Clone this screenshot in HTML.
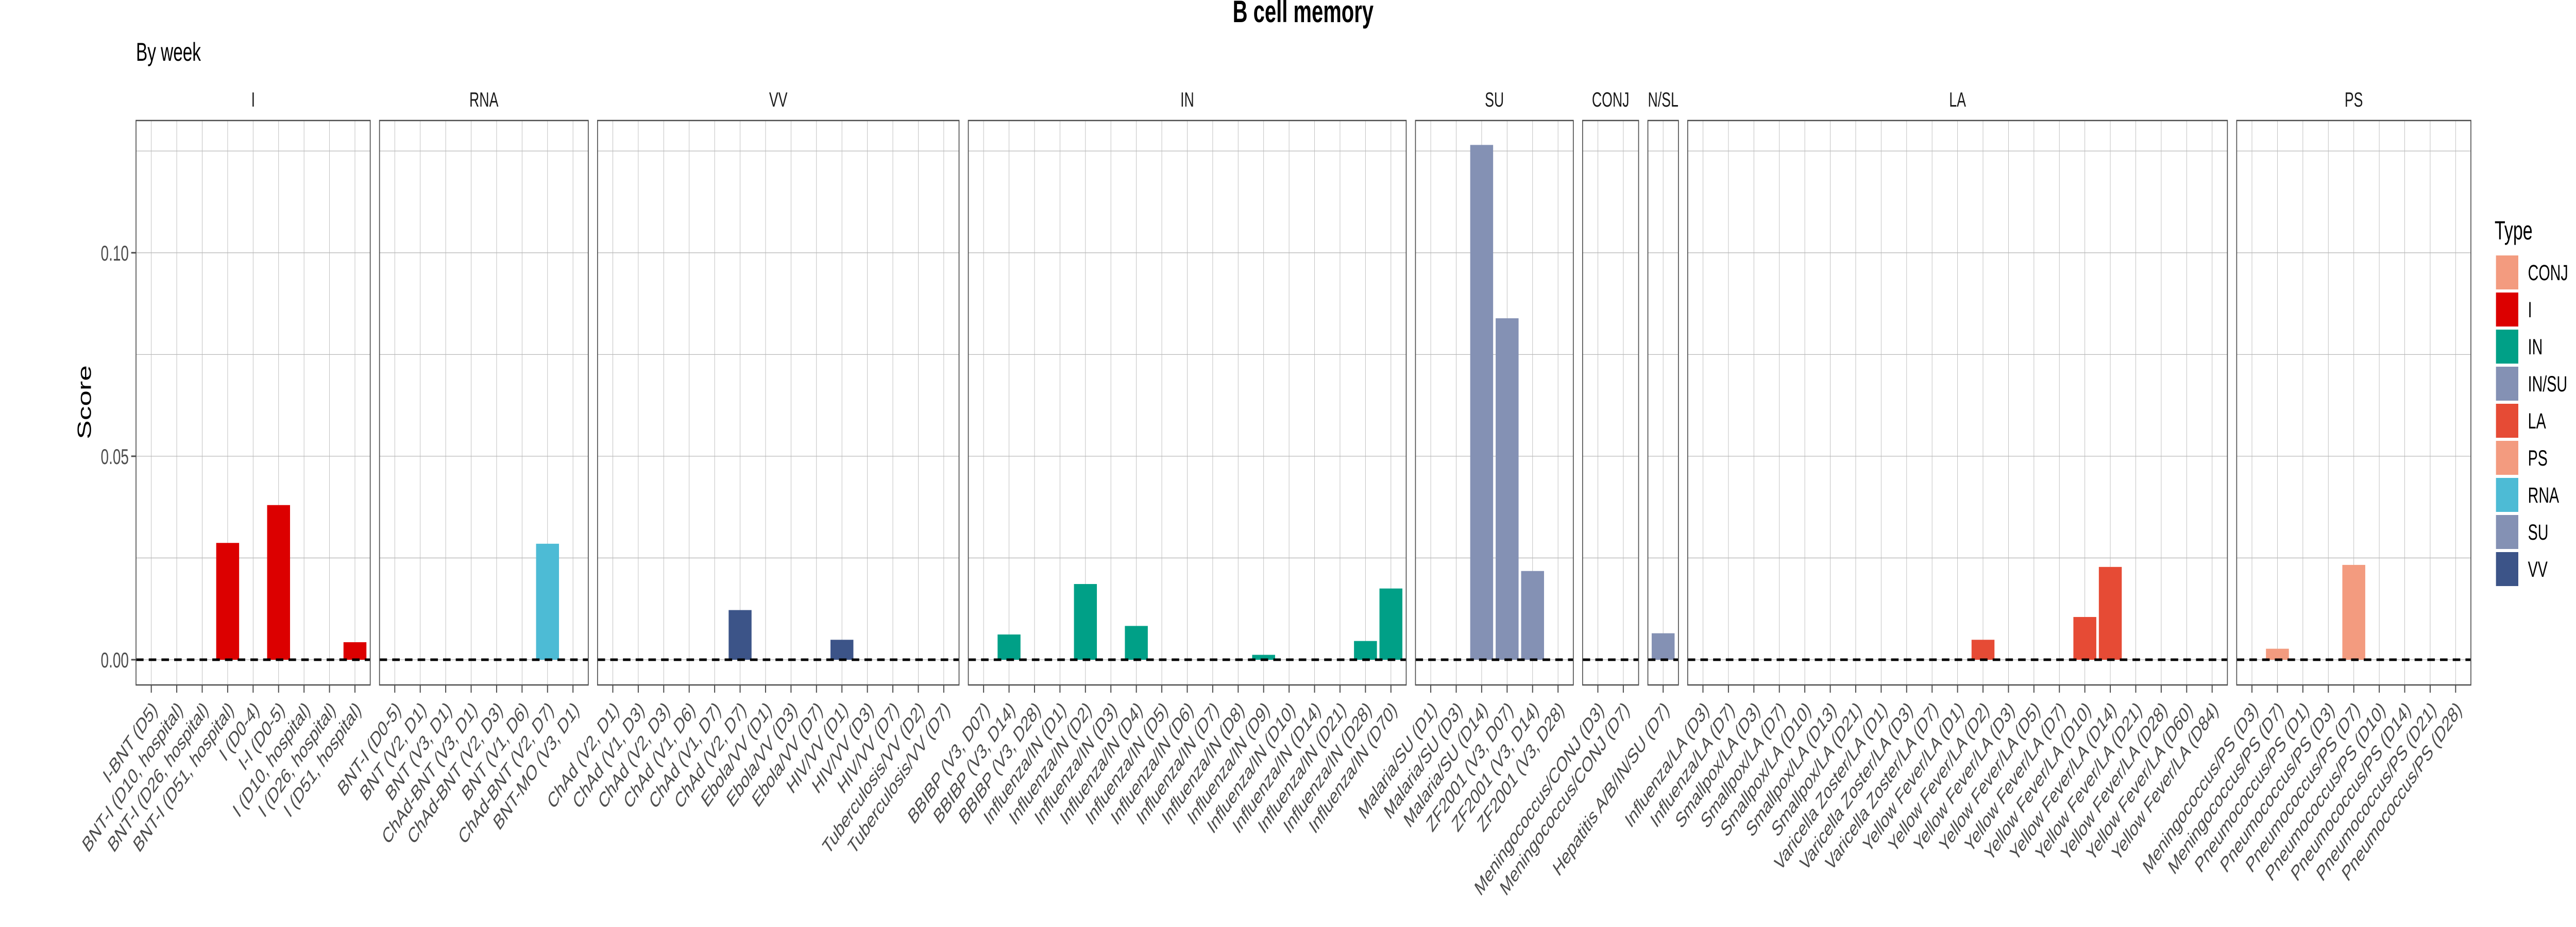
<!DOCTYPE html>
<html><head><meta charset="utf-8">
<style>
html,body{margin:0;padding:0;background:#fff;width:100%;height:100%;overflow:hidden;}
svg{display:block;font-family:"Liberation Sans",sans-serif;width:100vw;height:100vh;}
</style></head>
<body>
<svg id="chart" viewBox="0 0 7500 1800" preserveAspectRatio="none" xmlns="http://www.w3.org/2000/svg">
<text x="3794" y="43" font-size="60" font-weight="bold" text-anchor="middle" fill="#000">B cell memory</text>
<text x="396" y="118" font-size="50" fill="#000">By week</text>
<text x="265" y="781" transform="rotate(-90 265 781)" font-size="55" text-anchor="middle" fill="#000">Score</text>
<g id="panels"></g>
<g id="legend"></g>
</svg>
<script>
const panelNames = ["I","RNA","VV","IN","SU","CONJ","N/SL","LA","PS"];
const panelLabels = [
 ["I-BNT (D5)","BNT-I (D10, hospital)","BNT-I (D26, hospital)","BNT-I (D51, hospital)","I (D0-4)","I-I (D0-5)","I (D10, hospital)","I (D26, hospital)","I (D51, hospital)"],
 ["BNT-I (D0-5)","BNT (V2, D1)","BNT (V3, D1)","ChAd-BNT (V3, D1)","ChAd-BNT (V2, D3)","BNT (V1, D6)","ChAd-BNT (V2, D7)","BNT-MO (V3, D1)"],
 ["ChAd (V2, D1)","ChAd (V1, D3)","ChAd (V2, D3)","ChAd (V1, D6)","ChAd (V1, D7)","ChAd (V2, D7)","Ebola/VV (D1)","Ebola/VV (D3)","Ebola/VV (D7)","HIV/VV (D1)","HIV/VV (D3)","HIV/VV (D7)","Tuberculosis/VV (D2)","Tuberculosis/VV (D7)"],
 ["BBIBP (V3, D07)","BBIBP (V3, D14)","BBIBP (V3, D28)","Influenza/IN (D1)","Influenza/IN (D2)","Influenza/IN (D3)","Influenza/IN (D4)","Influenza/IN (D5)","Influenza/IN (D6)","Influenza/IN (D7)","Influenza/IN (D8)","Influenza/IN (D9)","Influenza/IN (D10)","Influenza/IN (D14)","Influenza/IN (D21)","Influenza/IN (D28)","Influenza/IN (D70)"],
 ["Malaria/SU (D1)","Malaria/SU (D3)","Malaria/SU (D14)","ZF2001 (V3, D07)","ZF2001 (V3, D14)","ZF2001 (V3, D28)"],
 ["Meningococcus/CONJ (D3)","Meningococcus/CONJ (D7)"],
 ["Hepatitis A/B/IN/SU (D7)"],
 ["Influenza/LA (D3)","Influenza/LA (D7)","Smallpox/LA (D3)","Smallpox/LA (D7)","Smallpox/LA (D10)","Smallpox/LA (D13)","Smallpox/LA (D21)","Varicella Zoster/LA (D1)","Varicella Zoster/LA (D3)","Varicella Zoster/LA (D7)","Yellow Fever/LA (D1)","Yellow Fever/LA (D2)","Yellow Fever/LA (D3)","Yellow Fever/LA (D5)","Yellow Fever/LA (D7)","Yellow Fever/LA (D10)","Yellow Fever/LA (D14)","Yellow Fever/LA (D21)","Yellow Fever/LA (D28)","Yellow Fever/LA (D60)","Yellow Fever/LA (D84)"],
 ["Meningococcus/PS (D3)","Meningococcus/PS (D7)","Pneumococcus/PS (D1)","Pneumococcus/PS (D3)","Pneumococcus/PS (D7)","Pneumococcus/PS (D10)","Pneumococcus/PS (D14)","Pneumococcus/PS (D21)","Pneumococcus/PS (D28)"]
];
const valuesI = [0,0,0,0.0287,0,0.038,0,0,0.0043];
const valuesRNA = [0,0,0,0,0,0,0.0285,0];
const valuesVV = [0,0,0,0,0,0.0122,0,0,0,0.0049,0,0,0,0];
const valuesIN = [0,0.0062,0,0,0.0186,0,0.0083,0,0,0,0,0.0012,0,0,0,0.0046,0.0175];
const valuesSU = [0,0,0.1265,0.0839,0.0218,0];
const valuesCONJ = [0,0];
const valuesNSL = [0.0065];
const valuesLA = [0,0,0,0,0,0,0,0,0,0,0,0.0049,0,0,0,0.0105,0.0228,0,0,0,0];
const valuesPS = [0,0.0027,0,0,0.0233,0,0,0,0];
const panelValues = [valuesI,valuesRNA,valuesVV,valuesIN,valuesSU,valuesCONJ,valuesNSL,valuesLA,valuesPS];
const panelTypes = ["I","RNA","VV","IN","SU","CONJ","IN/SU","LA","PS"];
const legendTypes = ["CONJ","I","IN","IN/SU","LA","PS","RNA","SU","VV"];
const legendColors = ["#F39B7F","#DC0000","#00A087","#8491B4","#E64B35","#F39B7F","#4DBBD5","#8491B4","#3C5488"];
const yTicks = [0,0.05,0.1];
const yTickLabels = ["0.00","0.05","0.10"];
const yMinor = [0.025,0.075,0.125];

(function(){
const NS="http://www.w3.org/2000/svg";
function mk(tag, attrs, parent){const e=document.createElementNS(NS,tag);for(const k in attrs)e.setAttribute(k,attrs[k]);parent.appendChild(e);return e;}
const colorOf = t => legendColors[legendTypes.indexOf(t)];
const plotTop=234, plotBottom=1330, yMin=-0.0062, yMax=0.1325;
const y = v => plotBottom - (v - yMin)/(yMax - yMin)*(plotBottom - plotTop);
const left0=396, right0=7194, gap=27;
const nTotal = panelLabels.reduce((a,b)=>a+b.length,0);
const step = (right0-left0-gap*(panelLabels.length-1))/(nTotal+0.2*panelLabels.length);
const panelsG=document.getElementById('panels');

yTicks.forEach((t,i)=>{
  const lab=mk('text',{x:375,y:y(t)+15,'font-size':42,'text-anchor':'end',fill:'#4d4d4d'},panelsG);
  lab.textContent=yTickLabels[i];
  
  
  const tk=mk('line',{x1:382,x2:396,y1:y(t),y2:y(t),stroke:'#4d4d4d','stroke-width':3},panelsG);
  
  
});

let xl=left0;
panelLabels.forEach((labels,p)=>{
  const n=labels.length;
  const w=(n+0.2)*step;
  const g=mk('g',{},panelsG);
  
  
  const x0=xl;
  const x = i => x0 + 0.6*step + i*step;
  yTicks.concat(yMinor).forEach(t=>{
    const gl=mk('line',{x1:x0,x2:x0+w,y1:y(t),y2:y(t),stroke:'#b8b8b8','stroke-width':1.3},g);
    
    
  });
  labels.forEach((l,i)=>{
    const gl=mk('line',{x1:x(i),x2:x(i),y1:plotTop,y2:plotBottom,stroke:'#b8b8b8','stroke-width':1.3},g);
    
    
  });
  const vals=panelValues[p];
  vals.forEach((v,i)=>{
    if(v<=0) return;
    const b=mk('rect',{x:x(i)-0.45*step,width:0.9*step,y:y(v),height:y(0)-y(v),fill:colorOf(panelTypes[p])},g);
    
    
  });
  const zl=mk('line',{x1:x0,x2:x0+w,y1:y(0),y2:y(0),stroke:'#000','stroke-width':5,'stroke-dasharray':'22 15'},g);
  
  
  const br=mk('rect',{x:x0,y:plotTop,width:w,height:plotBottom-plotTop,fill:'none',stroke:'#4d4d4d','stroke-width':2.5},g);
  
  
  const st=mk('text',{x:x0+w/2,y:207,'font-size':40,'text-anchor':'middle',fill:'#1a1a1a'},g);
  st.textContent=panelNames[p];
  
  
  labels.forEach((l,i)=>{
    const tk=mk('line',{x1:x(i),x2:x(i),y1:plotBottom,y2:plotBottom+15,stroke:'#4d4d4d','stroke-width':3},g);
    
    
    const tx=x(i)+20, ty=plotBottom+50;
    const lb=mk('text',{x:tx,y:ty,'font-size':42,'text-anchor':'end',fill:'#4d4d4d',transform:'rotate(-45 '+tx+' '+ty+')'},g);
    lb.textContent=l;
    
    
  });
  xl+=w+gap;
});

const lg=document.getElementById('legend');
const lt=mk('text',{x:7263,y:465,'font-size':51,fill:'#000'},lg);
lt.textContent='Type';


legendTypes.forEach((t,i)=>{
  const yy=496+i*72;
  const k=mk('rect',{x:7267,y:yy,width:65,height:66,fill:legendColors[i]},lg);
  
  
  const tx=mk('text',{x:7360,y:yy+48,'font-size':43,fill:'#000'},lg);
  tx.textContent=t;
  
  
});
})();
</script>
</body></html>
